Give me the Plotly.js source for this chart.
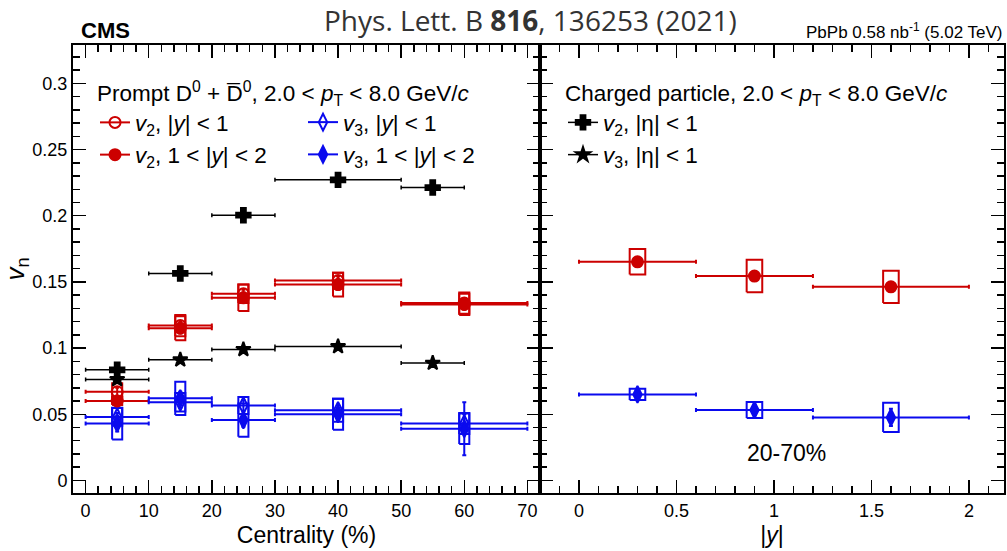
<!DOCTYPE html>
<html><head><meta charset="utf-8">
<script src="https://cdn.plot.ly/plotly-3.0.1.min.js"></script>
<style>html,body{margin:0;padding:0;background:#fff}#chart{width:1007px;height:551px}</style>
</head><body><div id="chart"></div>
<script>
// ---------- data ----------
// Left panel: vs centrality (%)
const centBins = [5, 15, 25, 40, 60];
const centHalf = [5, 5, 5, 10, 10];
const v2Mid = [0.067, 0.117, 0.141, 0.151, 0.134];      // v2, |y|<1
const v2MidStat = [0.003, 0.003, 0.003, 0.003, 0.003];
const v2MidSys = [0.0065, 0.008, 0.007, 0.006, 0.008];
const v2Fwd = [0.060, 0.115, 0.138, 0.148, 0.133];      // v2, 1<|y|<2
const v2FwdStat = [0.003, 0.004, 0.004, 0.004, 0.004];
const v2FwdSys = [0.003, 0.009, 0.010, 0.009, 0.008];
const v3Mid = [0.048, 0.059, 0.0566, 0.053, 0.043];     // v3, |y|<1
const v3MidStat = [0.003, 0.004, 0.004, 0.004, 0.007];
const v3MidSys = [0.0067, 0.007, 0.0064, 0.0087, 0.008];
const v3Fwd = [0.043, 0.062, 0.0456, 0.050, 0.039];     // v3, 1<|y|<2
const v3FwdStat = [0.006, 0.005, 0.005, 0.005, 0.020];
const v3FwdSys = [0.012, 0.0125, 0.0126, 0.0117, 0.0115];
// Charged particles
const chCent = [5, 15, 25, 40, 55];
const chHalf = [5, 5, 5, 10, 5];
const chV2 = [0.0836, 0.1564, 0.2004, 0.2271, 0.2213];
const chV3 = [0.0763, 0.0912, 0.0990, 0.1012, 0.0887];
const chStat = [0.0015, 0.0015, 0.0015, 0.0015, 0.0015];
// Right panel: vs |y|, 20-70%
const rapBins = [0.3, 0.9, 1.6];
const rapHalf = [0.3, 0.3, 0.4];
const v2Rap = [0.1652, 0.1544, 0.1463];
const v2RapStat = [0.003, 0.003, 0.003];
const v2RapSys = [0.0096, 0.0123, 0.0122];
const v3Rap = [0.0650, 0.0532, 0.0476];
const v3RapStat = [0.003, 0.004, 0.0065];
const v3RapSys = [0.0043, 0.006, 0.011];

// ---------- helpers ----------
const RED = '#cc0000', BLUE = '#0a0aee', BLACK = '#000000';
function gap(a) { const o = []; a.forEach((v, i) => { o.push(v); if (i < a.length - 1) o.push(null); }); return o; }
function gapE(a) { const o = []; a.forEach((v, i) => { o.push(v); if (i < a.length - 1) o.push(0); }); return o; }
function boxes(xs, ys, hw, sys, color, xa, ya) {
  const X = [], Y = [];
  xs.forEach((x, i) => {
    const y0 = ys[i] - sys[i], y1 = ys[i] + sys[i];
    X.push(x - hw, x + hw, x + hw, x - hw, x - hw, null);
    Y.push(y0, y0, y1, y1, y0, null);
  });
  return {x: X, y: Y, xaxis: xa, yaxis: ya, mode: 'lines', line: {color: color, width: 2},
          showlegend: false, hoverinfo: 'skip'};
}
function pts(xs, ys, xh, ystat, color, symbol, size, name, xa, ya, opts) {
  const w = color === BLACK ? 1.5 : 2;
  const t = {
    x: gap(xs), y: gap(ys), xaxis: xa, yaxis: ya, mode: 'lines+markers', name: name,
    line: {color: color, width: w},
    marker: {color: color, symbol: symbol, size: size, line: {color: color, width: 2}},
    error_x: {type: 'data', array: gapE(xh), visible: true, color: color, thickness: w, width: 2},
    error_y: {type: 'data', array: gapE(ystat), visible: true, color: color, thickness: w, width: 2},
    connectgaps: false
  };
  return Object.assign(t, opts || {});
}

const traces = [
  boxes(centBins, v2Mid, 0.8, v2MidSys, RED, 'x', 'y'),
  boxes(centBins, v2Fwd, 0.8, v2FwdSys, RED, 'x', 'y'),
  boxes(centBins, v3Mid, 0.8, v3MidSys, BLUE, 'x', 'y'),
  boxes(centBins, v3Fwd, 0.8, v3FwdSys, BLUE, 'x', 'y'),
  boxes(rapBins, v2Rap, 0.04, v2RapSys, RED, 'x2', 'y2'),
  boxes(rapBins, v3Rap, 0.04, v3RapSys, BLUE, 'x2', 'y2'),
  pts(chCent, chV2, chHalf, chStat, BLACK, 'cross', 12, '<i>v</i><sub>2</sub>, |η| < 1', 'x', 'y', {legend: 'legend2', legendrank: 1}),
  pts(chCent, chV3, chHalf, chStat, BLACK, 'star', 11, '<i>v</i><sub>3</sub>, |η| < 1', 'x', 'y', {legend: 'legend2', legendrank: 2}),
  pts(centBins, v2Mid, centHalf, v2MidStat, RED, 'circle-open', 11, '<i>v</i><sub>2</sub>, |<i>y</i>| < 1', 'x', 'y', {legendrank: 1}),
  pts(centBins, v2Fwd, centHalf, v2FwdStat, RED, 'circle', 11, '<i>v</i><sub>2</sub>, 1 < |<i>y</i>| < 2', 'x', 'y', {legendrank: 2}),
  pts(centBins, v3Mid, centHalf, v3MidStat, BLUE, 'diamond-tall-open', 12, '<i>v</i><sub>3</sub>, |<i>y</i>| < 1', 'x', 'y', {legend: 'legend3', legendrank: 1}),
  pts(centBins, v3Fwd, centHalf, v3FwdStat, BLUE, 'diamond-tall', 12, '<i>v</i><sub>3</sub>, 1 < |<i>y</i>| < 2', 'x', 'y', {legend: 'legend3', legendrank: 2}),
  pts(rapBins, v2Rap, rapHalf, v2RapStat, RED, 'circle', 11, 'v2 rap', 'x2', 'y2', {showlegend: false}),
  pts(rapBins, v3Rap, rapHalf, v3RapStat, BLUE, 'diamond-tall', 12, 'v3 rap', 'x2', 'y2', {showlegend: false})
];

const FONT = 'Liberation Sans, Arial, Helvetica, sans-serif';
const axisCommon = {
  showgrid: false, zeroline: false, showline: true, linecolor: '#000', linewidth: 2,
  mirror: 'allticks', ticks: 'inside', ticklen: 13, tickwidth: 1.5, tickcolor: '#000',
  tickfont: {family: FONT, size: 18, color: '#000'}
};
const L = 73, W = 931, H = 448, TOP = 45;
const split = (540 - L) / W;
const px2x = p => (p - L) / W;
const py2y = p => (TOP + H - p) / H;
const LEGFONT = {family: FONT, size: 22.5, color: '#000'};
const legBase = {xanchor: 'left', yanchor: 'top', orientation: 'v', bgcolor: 'rgba(0,0,0,0)',
                 borderwidth: 0, font: LEGFONT, itemwidth: 30, tracegroupgap: 0};

const layout = {
  width: 1007, height: 551,
  margin: {l: L, r: 3, t: TOP, b: 58},
  paper_bgcolor: '#fff', plot_bgcolor: '#fff',
  font: {family: FONT, color: '#000'},
  showlegend: true,
  xaxis: Object.assign({}, axisCommon, {
    domain: [0, split], range: [-2, 72], tickmode: 'linear', tick0: 0, dtick: 10,
    minor: {dtick: 2, ticks: 'inside', ticklen: 7, tickwidth: 1.5, tickcolor: '#000', showgrid: false},
    title: {text: 'Centrality (%)', font: {family: FONT, size: 23}, standoff: 7}
  }),
  xaxis2: Object.assign({}, axisCommon, {
    domain: [split, 1], range: [-0.2, 2.18], tickmode: 'linear', tick0: 0, dtick: 0.5,
    minor: {dtick: 0.1, ticks: 'inside', ticklen: 7, tickwidth: 1.5, tickcolor: '#000', showgrid: false},
    anchor: 'y2',
    title: {text: '|<i>y</i>|', font: {family: FONT, size: 23}, standoff: 7}
  }),
  yaxis: Object.assign({}, axisCommon, {
    range: [-0.0095, 0.329], tickmode: 'linear', tick0: 0, dtick: 0.05,
    minor: {dtick: 0.01, ticks: 'inside', ticklen: 7, tickwidth: 1.5, tickcolor: '#000', showgrid: false},
    title: {text: '<i>v</i><sub>n</sub>', font: {family: FONT, size: 26}, standoff: 6}
  }),
  yaxis2: Object.assign({}, axisCommon, {
    range: [-0.0095, 0.329], tickmode: 'linear', tick0: 0, dtick: 0.05, anchor: 'x2',
    minor: {dtick: 0.01, ticks: 'inside', ticklen: 7, tickwidth: 1.5, tickcolor: '#000', showgrid: false},
    showticklabels: false
  }),
  legend: Object.assign({}, legBase, {
    x: px2x(95), y: py2y(72),
    title: {text: 'Prompt D<sup>0</sup> + D\u0305<sup>0</sup>, 2.0 < <i>p</i><sub>T</sub> < 8.0 GeV/<i>c</i>', side: 'top', font: LEGFONT}
  }),
  legend3: Object.assign({}, legBase, {
    x: px2x(303), y: py2y(101)
  }),
  legend2: Object.assign({}, legBase, {
    x: px2x(563), y: py2y(72),
    title: {text: 'Charged particle, 2.0 < <i>p</i><sub>T</sub> < 8.0 GeV/<i>c</i>', side: 'top', font: LEGFONT}
  }),
  annotations: [
    {text: '<b>CMS</b>', xref: 'paper', yref: 'paper', x: px2x(79), y: py2y(45),
     xanchor: 'left', yanchor: 'bottom', showarrow: false, font: {family: FONT, size: 22, color: '#000'}},
    {text: 'Phys. Lett. B <b>816</b>, 136253 (2021)', xref: 'paper', yref: 'paper', x: px2x(530), y: py2y(20),
     xanchor: 'center', yanchor: 'middle', showarrow: false, font: {family: 'Open Sans, sans-serif', size: 28, color: '#333333'}},
    {text: 'PbPb 0.58 nb<sup>-1</sup> (5.02 TeV)', xref: 'paper', yref: 'paper', x: 1, y: py2y(44),
     xanchor: 'right', yanchor: 'bottom', showarrow: false, font: {family: FONT, size: 17, color: '#000'}},
    {text: '20-70%', xref: 'paper', yref: 'paper', x: px2x(786), y: py2y(453),
     xanchor: 'center', yanchor: 'middle', showarrow: false, font: {family: FONT, size: 23, color: '#000'}}
  ]
};

Plotly.newPlot('chart', traces, layout, {displayModeBar: false, staticPlot: true});
</script></body></html>
